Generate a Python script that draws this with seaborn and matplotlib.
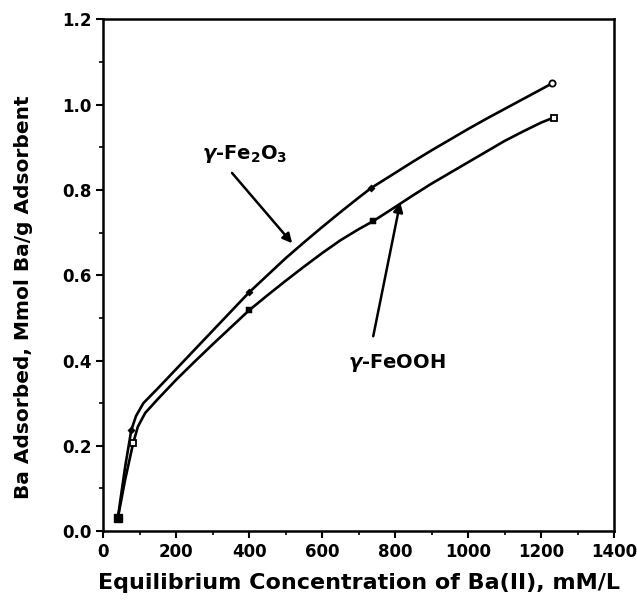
import numpy as np
import pandas as pd
import matplotlib
matplotlib.use("Agg")
import matplotlib.pyplot as plt
from matplotlib.ticker import MultipleLocator, FormatStrFormatter
import seaborn as sns

# measured points
fe2o3_x = [40, 77, 400, 735, 1230]
fe2o3_y = [0.03, 0.237, 0.56, 0.805, 1.05]
feooh_x = [40, 82, 400, 740, 1235]
feooh_y = [0.03, 0.206, 0.518, 0.727, 0.97]

# points
fe2o3_curve_x = [40, 60, 77, 90, 110, 150, 200, 250, 300, 350, 400, 450, 500, 550, 600, 650,
                 700, 735, 800, 850, 900, 950, 1000, 1050, 1100, 1150, 1200, 1230]
fe2o3_curve_y = [0.03, 0.15, 0.237, 0.27, 0.30, 0.335, 0.38, 0.425, 0.47, 0.515, 0.56, 0.60,
                 0.64, 0.677, 0.713, 0.748, 0.782, 0.805, 0.84, 0.867, 0.893, 0.918, 0.943,
                 0.967, 0.99, 1.013, 1.036, 1.05]
feooh_curve_x = [40, 60, 82, 95, 115, 150, 200, 250, 300, 350, 400, 450, 500, 550, 600, 650,
                 700, 740, 800, 850, 900, 950, 1000, 1050, 1100, 1150, 1200, 1235]
feooh_curve_y = [0.03, 0.12, 0.206, 0.245, 0.277, 0.31, 0.355, 0.397, 0.438, 0.478, 0.518,
                 0.553, 0.587, 0.62, 0.652, 0.682, 0.708, 0.727, 0.76, 0.788, 0.815, 0.84,
                 0.865, 0.89, 0.915, 0.937, 0.958, 0.97]

sns.set_style("ticks")
plt.rcParams['font.family'] = ['DejaVu Sans']
plt.rcParams['font.weight'] = 'bold'
plt.rcParams['text.color'] = 'black'
plt.rcParams['axes.labelcolor'] = 'black'
plt.rcParams['mathtext.fontset'] = 'custom'
plt.rcParams['mathtext.rm'] = 'DejaVu Sans:bold'
plt.rcParams['mathtext.it'] = 'DejaVu Sans:italic:bold'

fig = plt.figure(figsize=(6.37, 6.07), dpi=100)
ax = fig.add_axes([0.162, 0.125, 0.802, 0.843])

sns.lineplot(x=fe2o3_curve_x, y=fe2o3_curve_y, ax=ax, color="black", lw=1.9, sort=False)
sns.lineplot(x=feooh_curve_x, y=feooh_curve_y, ax=ax, color="black", lw=1.9, sort=False)

# markers
sns.scatterplot(x=fe2o3_x[1:4], y=fe2o3_y[1:4], ax=ax, marker="D", s=14, color="black", edgecolor="black")
ax.plot(fe2o3_x[-1], fe2o3_y[-1], marker="o", ms=4.5, mfc="white", mec="black", mew=1.3)
sns.scatterplot(x=feooh_x[2:4], y=feooh_y[2:4], ax=ax, marker="s", s=18, color="black", edgecolor="black")
ax.plot(feooh_x[0], feooh_y[0], marker="s", ms=6, color="black")
ax.plot(feooh_x[1], feooh_y[1], marker="s", ms=5, mfc="white", mec="black", mew=1.3)
ax.plot(feooh_x[-1], feooh_y[-1], marker="s", ms=5, mfc="white", mec="black", mew=1.3)

# annotations
arrow = dict(arrowstyle="-|>", color="black", lw=1.8, mutation_scale=14, shrinkA=0, shrinkB=0)
ax.text(389, 0.885, r"$\mathit{\gamma}$-Fe$_2$O$_3$", ha="center", va="center",
        fontsize=14, fontweight="bold")
ax.annotate("", xy=(518, 0.675), xytext=(353, 0.84), arrowprops=arrow)
ax.text(805, 0.394, r"$\mathit{\gamma}$-FeOOH", ha="center", va="center",
        fontsize=14, fontweight="bold")
ax.annotate("", xy=(814, 0.771), xytext=(740, 0.457), arrowprops=arrow)

ax.set_xlim(0, 1400)
ax.set_ylim(0, 1.2)
ax.xaxis.set_major_locator(MultipleLocator(200))
ax.xaxis.set_minor_locator(MultipleLocator(100))
ax.yaxis.set_major_locator(MultipleLocator(0.2))
ax.yaxis.set_minor_locator(MultipleLocator(0.1))
ax.yaxis.set_major_formatter(FormatStrFormatter("%.1f"))
ax.tick_params(which="major", direction="out", length=5, width=1.5, labelsize=12, colors="black")
ax.tick_params(which="minor", direction="out", length=3, width=1.2, colors="black")
for lab in ax.get_xticklabels() + ax.get_yticklabels():
    lab.set_fontweight("bold")
for sp in ax.spines.values():
    sp.set_visible(True)
    sp.set_linewidth(1.8)
    sp.set_color("black")

ax.set_xlabel("Equilibrium Concentration of Ba(II), mM/L", fontsize=16, fontweight="bold", labelpad=9)
ax.set_ylabel("Ba Adsorbed, Mmol Ba/g Adsorbent", fontsize=14.5, fontweight="bold")
ax.yaxis.set_label_coords(-0.138, 0.457)

fig.savefig("out.png", dpi=100)
